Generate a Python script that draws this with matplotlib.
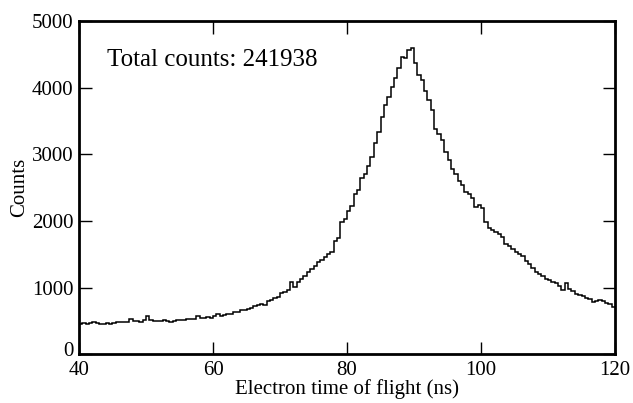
import numpy as np
import matplotlib.pyplot as plt
import matplotlib.transforms as mtransforms

# Electron time-of-flight histogram, 0.5 ns bins from 40 to 120 ns
bin_edges = np.arange(40, 120.01, 0.5)
counts = [
    460, 470, 455, 475, 480, 465, 450, 460, 470, 455,
    470, 480, 485, 480, 480, 530, 500, 495, 490, 520,
    570, 510, 500, 505, 495, 510, 500, 485, 500, 510,
    520, 515, 525, 530, 530, 580, 540, 545, 560, 550,
    570, 600, 575, 590, 600, 610, 640, 630, 660, 670,
    680, 700, 720, 740, 760, 740, 800, 820, 850, 860,
    920, 940, 970, 1090, 1010, 1080, 1130, 1180, 1240, 1280,
    1330, 1390, 1420, 1460, 1510, 1530, 1700, 1740, 1990, 2030,
    2150, 2230, 2400, 2460, 2640, 2700, 2820, 2960, 3170, 3340,
    3560, 3740, 3860, 4010, 4150, 4300, 4460, 4440, 4570, 4590,
    4370, 4190, 4120, 3950, 3820, 3670, 3380, 3300, 3220, 3030,
    2920, 2780, 2700, 2600, 2540, 2430, 2400, 2350, 2210, 2240,
    2200, 1990, 1900, 1870, 1840, 1800, 1760, 1650, 1620, 1580,
    1530, 1500, 1470, 1400, 1360, 1300, 1240, 1210, 1180, 1130,
    1110, 1090, 1070, 1020, 970, 1070, 980, 950, 900, 890,
    870, 850, 830, 790, 800, 820, 800, 770, 760, 710,
]
total_label = 'Total counts: 241938'

plt.rcParams['font.family'] = ['Liberation Serif', 'DejaVu Serif']

fig = plt.figure(figsize=(6.33, 4.03), dpi=100)
ax = fig.add_axes([0.1248, 0.1204, 0.8468, 0.8275])

ax.stairs(counts, bin_edges, baseline=None, color='black', linewidth=1.1)

ax.set_xlim(40, 120)
ax.set_ylim(0, 5000)
ax.set_xticks(np.arange(40, 121, 20))
ax.set_yticks(np.arange(0, 5001, 1000))

# inward ticks on all four sides, old matplotlib look
ax.tick_params(direction='in', length=9, width=1, top=True, right=True,
               labelsize=15)
ax.tick_params(axis='x', pad=5)
ax.tick_params(axis='y', pad=4)
for s in ax.spines.values():
    s.set_linewidth(2)

# the "0" sits a touch high so it doesn't run into the "40"
fig.canvas.draw()
lbl0 = ax.get_yticklabels()[0]
lbl0.set_transform(lbl0.get_transform() +
                   mtransforms.ScaledTranslation(0, 4 / 72, fig.dpi_scale_trans))

ax.set_xlabel('Electron time of flight (ns)', fontsize=15, labelpad=-1)
ax.set_ylabel('Counts', fontsize=15, labelpad=2)

ax.text(0.052, 0.883, total_label, transform=ax.transAxes,
        fontsize=18, va='center', ha='left')

plt.savefig('out.png', dpi=100)
